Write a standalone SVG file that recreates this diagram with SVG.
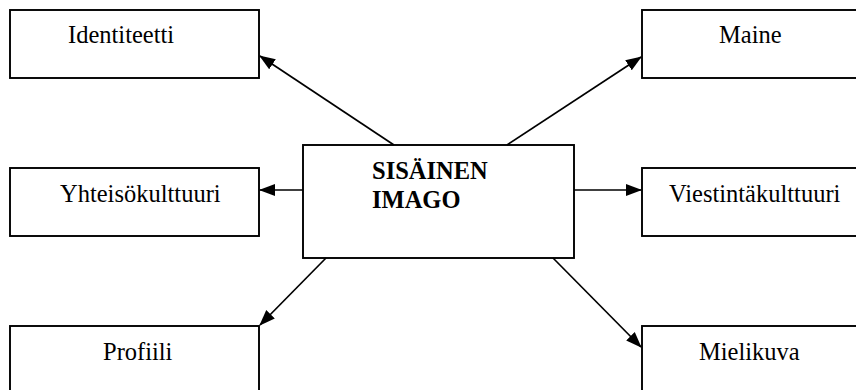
<svg xmlns="http://www.w3.org/2000/svg" width="856" height="390" viewBox="0 0 856 390">
<style>
.box{fill:#fff;stroke:#000;stroke-width:1.9}
.lbl{font-family:"Liberation Serif","Times New Roman",serif;font-size:24.5px;fill:#000}
.bold{font-weight:bold}
.conn{stroke:#000;stroke-width:1.7;fill:none;marker-end:url(#ah)}
</style>
<defs>
<marker id="ah" markerUnits="userSpaceOnUse" markerWidth="17" markerHeight="13" refX="15" refY="6.5" orient="auto">
<path d="M0,0.5 L16,6.5 L0,12.5 Z" fill="#000"/>
</marker>
</defs>
<rect width="856" height="390" fill="#fff"/>
<g id="identiteetti"><rect class="box" x="10" y="10" width="249" height="68"/><text class="lbl" x="68" y="43">Identiteetti</text></g>
<g id="maine"><rect class="box" x="642" y="10" width="250" height="68"/><text class="lbl" x="719" y="43">Maine</text></g>
<g id="yhteisokulttuuri"><rect class="box" x="10" y="168" width="249" height="68"/><text class="lbl" x="60" y="202">Yhteisökulttuuri</text></g>
<g id="viestintakulttuuri"><rect class="box" x="642" y="168" width="250" height="68"/><text class="lbl" x="669" y="202">Viestintäkulttuuri</text></g>
<g id="profiili"><rect class="box" x="10" y="326" width="249" height="80"/><text class="lbl" x="103" y="360">Profiili</text></g>
<g id="mielikuva"><rect class="box" x="642" y="326" width="250" height="80"/><text class="lbl" x="699" y="360">Mielikuva</text></g>
<g id="sisainen-imago"><rect class="box" x="303" y="145" width="271" height="113"/><text class="lbl bold" x="372" y="179">SISÄINEN</text><text class="lbl bold" x="372" y="208">IMAGO</text></g>
<g id="connectors">
<line class="conn" x1="394" y1="145" x2="260" y2="56"/>
<line class="conn" x1="507" y1="145" x2="641" y2="57"/>
<line class="conn" x1="303" y1="190" x2="260" y2="190"/>
<line class="conn" x1="574" y1="190" x2="641" y2="190"/>
<line class="conn" x1="326" y1="258" x2="260" y2="325"/>
<line class="conn" x1="553" y1="258" x2="641" y2="347"/>
</g>
</svg>
